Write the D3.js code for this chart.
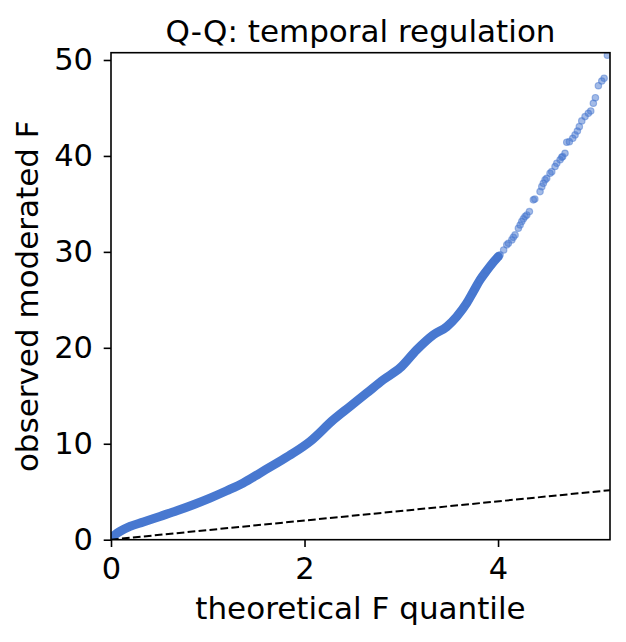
<!DOCTYPE html>
<html>
<head>
<meta charset="utf-8">
<script src="https://cdn.jsdelivr.net/npm/d3@7"></script>
<style>
  body { margin: 0; background: #fff; }
  svg { display: block; }
  text { font-family: "DejaVu Sans", sans-serif; }
</style>
</head>
<body>
<div id="chart"></div>
<script>
// Q-Q points: theoretical F quantile vs observed moderated F
const theoretical = [
  0.02, 0.093, 0.196, 0.334, 0.506, 0.679, 0.851, 1.023, 1.196, 1.367,
  1.54, 1.713, 1.884, 2.057, 2.298, 2.47, 2.643, 2.814, 2.987, 3.16,
  3.331, 3.47, 3.573, 3.676, 3.745, 3.814, 3.883, 3.987, 4.003, 4.021,
  4.058, 4.09, 4.107, 4.142, 4.158, 4.176, 4.21, 4.228, 4.245, 4.262,
  4.279, 4.297, 4.324, 4.365, 4.38, 4.434, 4.452, 4.468, 4.486, 4.503,
  4.537, 4.555, 4.589, 4.607, 4.641, 4.658, 4.668, 4.692, 4.71, 4.737,
  4.772, 4.796, 4.82, 4.84, 4.865, 4.899, 4.933, 4.958, 4.985, 5.006,
  5.037, 5.072, 5.096, 5.13
];
const observed = [
  0.35, 0.86, 1.39, 1.84, 2.43, 3.02, 3.65, 4.34, 5.1, 5.91,
  6.95, 7.99, 9.03, 10.24, 12.5, 13.89, 15.28, 16.67, 17.9, 19.8,
  21.35, 22.2, 23.26, 24.65, 25.87, 27.08, 28.05, 29.34, 29.51, 29.69,
  30.2, 30.73, 30.9, 31.25, 31.53, 31.77, 32.47, 32.8, 33.16, 33.44,
  33.68, 33.85, 34.2, 35.42, 35.5, 36.28, 36.8, 37.15, 37.5, 37.67,
  38.2, 38.36, 38.9, 39.24, 39.6, 39.86, 39.93, 40.28, 41.43, 41.49,
  41.84, 42.19, 42.6, 43.05, 43.65, 44.1, 44.45, 44.69, 45.49, 46.07,
  47.32, 47.81, 48.1, 50.5
];
const xTicks = [0, 2, 4];
const yTicks = [0, 10, 20, 30, 40, 50];
const xMax = 5.157;
const yMax = 50.76;

const width = 626, height = 642;
const margin = { top: 52.7, right: 16, bottom: 102.3, left: 111 };
const innerW = width - margin.left - margin.right;
const innerH = height - margin.top - margin.bottom;
const blue = '#4878d0';
const fontSize = 31;
const tickFontSize = 30.5;

const points = theoretical.map((t, i) => ({ t, f: observed[i] }));

const x = d3.scaleLinear().domain([0, xMax]).range([0, innerW]);
const y = d3.scaleLinear().domain([0, yMax]).range([innerH, 0]);

const svg = d3.select('#chart').append('svg')
  .attr('width', width)
  .attr('height', height);

svg.append('defs').append('clipPath')
  .attr('id', 'plot-clip')
  .append('rect')
  .attr('width', innerW)
  .attr('height', innerH);

const g = svg.append('g')
  .attr('transform', `translate(${margin.left},${margin.top})`);

const plot = g.append('g').attr('clip-path', 'url(#plot-clip)');

// The dense body of the cloud reads as one solid band of overlapping markers
const line = d3.line()
  .x(d => x(d.t))
  .y(d => y(d.f))
  .curve(d3.curveMonotoneX);
plot.append('path')
  .datum(points.filter(d => d.t <= 4.01))
  .attr('fill', 'none')
  .attr('stroke', blue)
  .attr('stroke-width', 9)
  .attr('stroke-linecap', 'round')
  .attr('stroke-linejoin', 'round')
  .attr('d', line);

plot.append('g')
  .selectAll('circle')
  .data(points.filter(d => d.t >= 3.6))
  .join('circle')
  .attr('cx', d => x(d.t))
  .attr('cy', d => y(d.f))
  .attr('r', 3.2)
  .attr('fill', blue)
  .attr('fill-opacity', 0.5)
  .attr('stroke', blue)
  .attr('stroke-opacity', 0.5)
  .attr('stroke-width', 1.2);

// y = x reference
plot.append('line')
  .attr('x1', x(0))
  .attr('y1', y(0))
  .attr('x2', x(xMax))
  .attr('y2', y(xMax))
  .attr('stroke', '#000')
  .attr('stroke-width', 2)
  .attr('stroke-dasharray', '7.7,3.3');

const xAxis = g.append('g')
  .attr('transform', `translate(0,${innerH})`)
  .call(d3.axisBottom(x).tickValues(xTicks).tickFormat(d3.format('d'))
    .tickSize(7.3).tickSizeOuter(0).tickPadding(10.5));

const yAxis = g.append('g')
  .call(d3.axisLeft(y).tickValues(yTicks).tickFormat(d3.format('d'))
    .tickSize(7.3).tickSizeOuter(0).tickPadding(10.7));

[xAxis, yAxis].forEach(a => {
  a.select('.domain').remove();
  a.selectAll('line').attr('stroke', '#000').attr('stroke-width', 1.6);
  a.selectAll('text')
    .attr('fill', '#000')
    .style('font-size', tickFontSize + 'px')
    .style('font-family', '"DejaVu Sans", sans-serif');
});

// spines
g.append('rect')
  .attr('width', innerW)
  .attr('height', innerH)
  .attr('fill', 'none')
  .attr('stroke', '#000')
  .attr('stroke-width', 1.6);

svg.append('text')
  .attr('x', margin.left + innerW / 2)
  .attr('y', 41.5)
  .attr('text-anchor', 'middle')
  .style('font-size', fontSize + 'px')
  .text('Q-Q: temporal regulation');

svg.append('text')
  .attr('x', margin.left + innerW / 2)
  .attr('y', 619)
  .attr('text-anchor', 'middle')
  .style('font-size', fontSize + 'px')
  .text('theoretical F quantile');

svg.append('text')
  .attr('transform', `translate(38,${margin.top + innerH / 2}) rotate(-90)`)
  .attr('text-anchor', 'middle')
  .style('font-size', fontSize + 'px')
  .text('observed moderated F');
</script>
</body>
</html>
